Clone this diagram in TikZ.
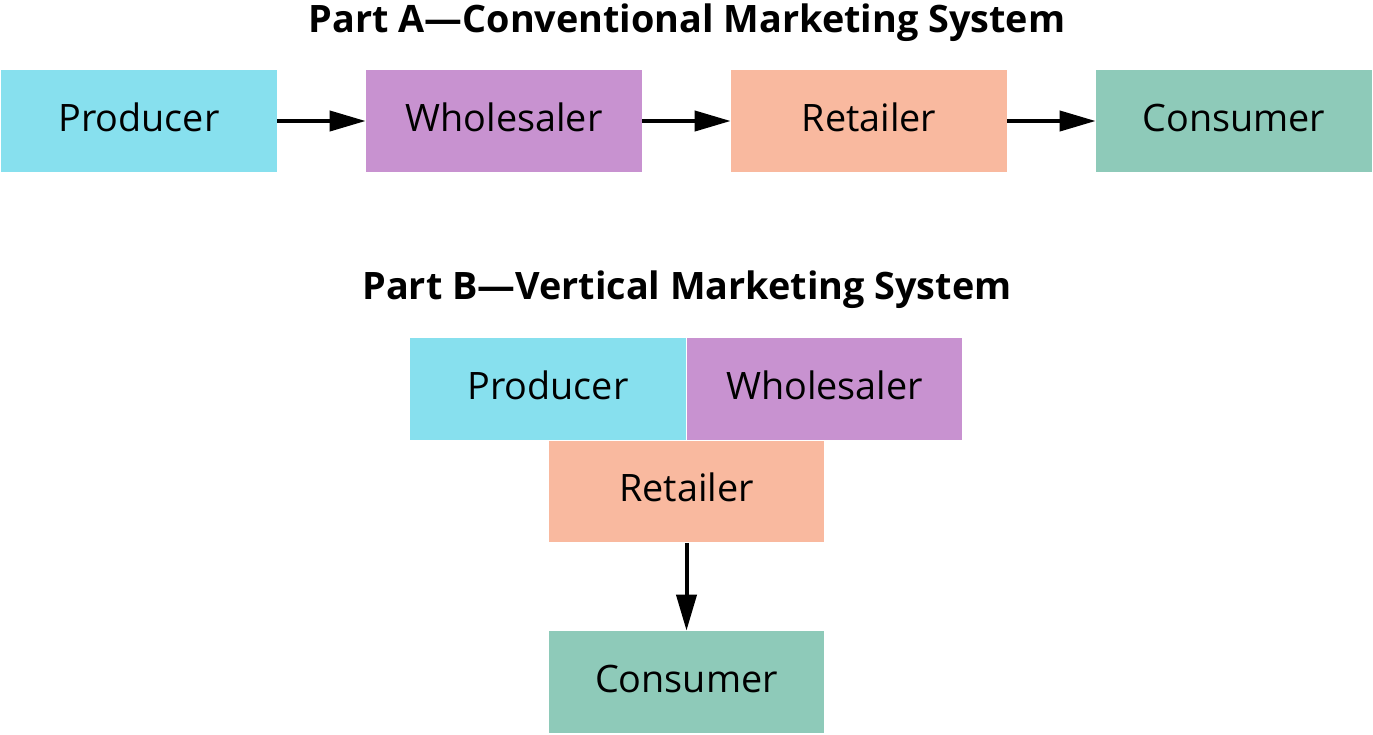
\documentclass[tikz,border=0pt]{standalone}
\usepackage{fontspec}
\setmainfont{Open Sans}
\usetikzlibrary{arrows.meta}
\definecolor{prodcol}{RGB}{135,224,238}
\definecolor{wholecol}{RGB}{200,146,208}
\definecolor{retcol}{RGB}{249,185,159}
\definecolor{conscol}{RGB}{142,202,185}

\begin{document}
\begin{tikzpicture}
				[x=0.02cm,y=-0.02cm, every node/.style={font=\fontsize{21.5}{25}\selectfont},
				box/.style={rectangle,inner sep=0pt,minimum width=5.52cm,minimum height=2.04cm,
					text height=0.57cm,text depth=0.16cm},
				title/.style={font=\fontsize{21.5}{25}\selectfont\bfseries},
				flow/.style={line width=0.08cm,-{Triangle[length=0.72cm,width=0.4cm]}}]
				\useasboundingbox (0,0) rectangle (1373,734);
				% Part A
				\node[title] (ta) at (687,23) {Part A---Conventional Marketing System};
				\node[box,fill=prodcol] (p1) at (139,121)  {Producer};
				\node[box,fill=wholecol] (w1) at (504,121)  {Wholesaler};
				\node[box,fill=retcol] (r1) at (869,121)  {Retailer};
				\node[box,fill=conscol] (c1) at (1234,121)  {Consumer};
				
				\foreach \a/\b in {p1/w1,w1/r1,r1/c1}
				\draw[flow] (\a.east) -- (\b.west);
				
				% Part B
				\node[title] (tb) at (687,290) {Part B---Vertical Marketing System};
				\node[box,fill=prodcol] (p2) at (548,389)  {Producer};
				\node[box,fill=wholecol] (w2) at (824.5,389)  {Wholesaler};
				\node[box,fill=retcol] (r2) at (686.5,491.5)  {Retailer};
				\node[box,fill=conscol] (c2) at (686.5,682)  {Consumer};
				
				\draw[flow] (r2.south) -- (c2.north);
				\end{tikzpicture}
\end{document}
